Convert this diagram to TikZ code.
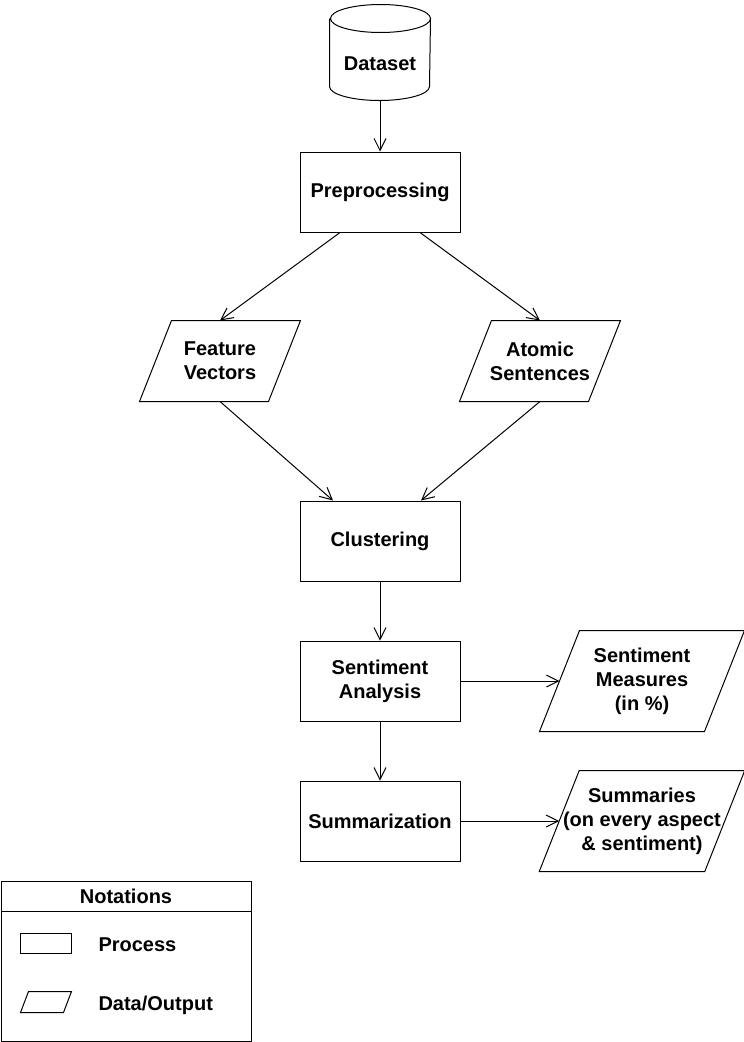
\documentclass[tikz,border=0pt]{standalone}
\usepackage{fontspec}
\setmainfont{Liberation Sans}
\usetikzlibrary{arrows.meta}

\begin{document}
\begin{tikzpicture}[x=1pt,y=-1pt,line width=1pt,font=\bfseries\fontsize{20}{24}\selectfont]
    \tikzset{process/.style = {shape=rectangle,draw,align=center,minimum width=160pt,minimum height=80pt}}
    \tikzset{data/.style = {shape=rectangle,align=center,minimum width=128pt,minimum height=80pt,
        append after command={\pgfextra{\draw ([xshift=#1]\tikzlastnode.north west) -- ([xshift=#1]\tikzlastnode.north east)
            -- ([xshift=-#1]\tikzlastnode.south east) -- ([xshift=-#1]\tikzlastnode.south west) -- cycle;}}},
        data/.default = 16pt}
    \tikzset{notetext/.style = {anchor=west,inner sep=0pt}}
    \tikzset{edge/.style = {-{Straight Barb[length=12pt,width=12pt]}}}
    \useasboundingbox (0,0) rectangle (744,1042);
    % vertices
    \node[minimum width=100pt,minimum height=95pt,inner sep=0pt,
        label={[yshift=-11.5pt]center:Dataset}] (DS) at (380,52.5) {};
    \draw ([yshift=-14pt]DS.north west) -- ([yshift=14pt]DS.south west)
        arc[start angle=180,end angle=360,x radius=50pt,y radius=14pt]
        -- ([yshift=-14pt]DS.north east)
        arc[start angle=0,end angle=360,x radius=50pt,y radius=14pt];
    \node[process] (PP) at (380,192) {Preprocessing};
    \node[data] (FV) at (220,361) {Feature\\Vectors};
    \node[data] (AS) at (540,361) {Atomic\\Sentences};
    \node[process] (CL) at (380,541) {Clustering};
    \node[process] (SA) at (380,681) {Sentiment\\Analysis};
    \node[process] (SU) at (380,821) {Summarization};
    \node[data=20pt,minimum width=164pt,minimum height=100pt] (SM) at (642,681) {Sentiment\\Measures\\(in \%)};
    \node[data=20pt,minimum width=164pt,minimum height=100pt] (SS) at (642,821) {Summaries\\(on every aspect\\\& sentiment)};
    % notations
    \node[draw,minimum width=250pt,minimum height=30pt] (NH) at (126,896) {Notations};
    \node[draw,minimum width=250pt,minimum height=130pt] (NB) at (126,976) {};
    \node[draw,minimum width=51pt,minimum height=20pt] (NP) at (46,943) {};
    \node[data=4pt,minimum width=42pt,minimum height=20pt] (ND) at (46,1002) {};
    \node[notetext] (NPL) at (98,945) {Process};
    \node[notetext] (NDL) at (98,1005) {Data/Output};
    %edges
    \draw[edge] (DS) -- (PP);
    \draw[edge] ([xshift=-40pt]PP.south) -- (FV.north);
    \draw[edge] ([xshift=40pt]PP.south) -- (AS.north);
    \draw[edge] (FV.south) -- ([xshift=-47pt]CL.north);
    \draw[edge] (AS.south) -- ([xshift=41pt]CL.north);
    \draw[edge] (CL) -- (SA);
    \draw[edge] (SA) -- (SU);
    \draw[edge] (SA) -- (SM.west);
    \draw[edge] (SU) -- (SS.west);
\end{tikzpicture}
\end{document}
